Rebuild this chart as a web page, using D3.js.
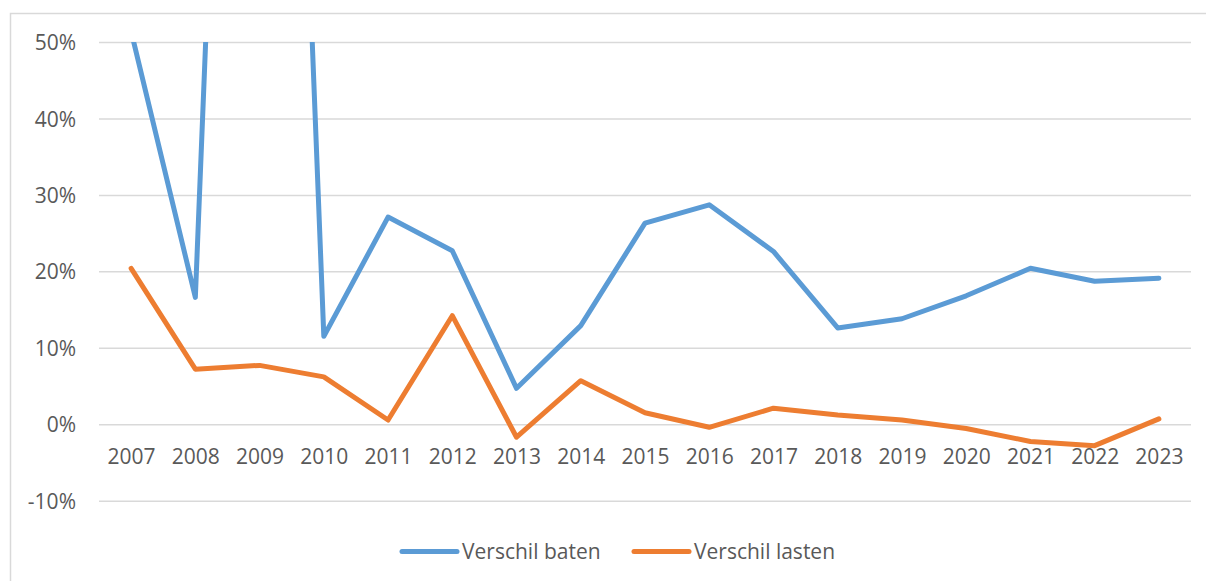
<!DOCTYPE html>
<html>
<head>
<meta charset="utf-8">
<script src="https://cdn.jsdelivr.net/npm/d3@7"></script>
<style>
    body { margin: 0; background: #fff; }
    #chart text { font-family: "Open Sans", sans-serif; fill: #595959; }
</style>
</head>
<body>
<div id="chart"></div>
<script>
const years = ["2007", "2008", "2009", "2010", "2011", "2012", "2013", "2014", "2015",
    "2016", "2017", "2018", "2019", "2020", "2021", "2022", "2023"];
const verschilBaten = [51.4, 16.6, 225, 11.5, 27.1, 22.7, 4.7, 12.9, 26.3,
    28.7, 22.6, 12.6, 13.8, 16.8, 20.4, 18.7, 19.1];
const verschilLasten = [20.4, 7.2, 7.7, 6.2, 0.55, 14.2, -1.7, 5.7, 1.5,
    -0.4, 2.1, 1.2, 0.55, -0.55, -2.25, -2.8, 0.7];
const yTicks = [-10, 0, 10, 20, 30, 40, 50];
const seriesNames = ["Verschil baten", "Verschil lasten"];
const seriesColors = ["#5b9bd5", "#ed7d31"];

let width = 1206;
let height = 581;
let plotLeft = 99;
let plotRight = 1191;
let plotTop = 42;
let plotBottom = 500.7;

let svg = d3.select("#chart").append("svg")
    .attr("width", width)
    .attr("height", height);

/* Chart frame (top and left edges visible) */
svg.append("path")
    .attr("d", `M10.5,${height + 2} V13.5 H${width + 2}`)
    .attr("fill", "none")
    .attr("stroke", "#d9d9d9")
    .attr("stroke-width", 1.5);

let x = d3.scalePoint()
    .domain(years)
    .range([plotLeft, plotRight])
    .padding(0.5);

let y = d3.scaleLinear()
    .domain([-10, 50])
    .range([plotBottom, plotTop]);

/* Gridlines + y labels */
let yAxis = d3.axisLeft(y)
    .tickValues(yTicks)
    .tickSize(-(plotRight - plotLeft))
    .tickPadding(23)
    .tickFormat(d => `${d < 0 ? "-" : ""}${Math.abs(d)}%`);

svg.append("g")
    .attr("class", "y axis")
    .attr("transform", `translate(${plotLeft}, 0)`)
    .call(yAxis)
    .call(g => g.select(".domain").remove())
    .call(g => g.selectAll("line").attr("stroke", "#d9d9d9").attr("stroke-width", 1.5))
    .call(g => g.selectAll("text").attr("font-size", 21).attr("dy", "0.36em"));

/* Year labels under the 0% line */
let xAxis = d3.axisBottom(x).tickSize(0).tickPadding(0);

svg.append("g")
    .attr("class", "x axis")
    .attr("transform", `translate(0, ${y(0)})`)
    .call(xAxis)
    .call(g => g.select(".domain").remove())
    .call(g => g.selectAll("text").attr("font-size", 21).attr("dy", "1.88em"));

/* Clip lines to the plot area */
svg.append("clipPath")
    .attr("id", "plot-clip")
    .append("rect")
    .attr("x", 0)
    .attr("y", plotTop)
    .attr("width", width)
    .attr("height", height - plotTop);

let line = d3.line()
    .x((d, i) => x(years[i]))
    .y(d => y(d));

let lines = svg.append("g")
    .attr("class", "lines")
    .attr("clip-path", "url(#plot-clip)");

lines.selectAll(".line")
    .data([verschilBaten, verschilLasten]).enter()
    .append("path")
    .attr("class", "line")
    .attr("d", d => line(d))
    .attr("fill", "none")
    .attr("stroke", (d, i) => seriesColors[i])
    .attr("stroke-width", 5)
    .attr("stroke-linejoin", "round")
    .attr("stroke-linecap", "round");

/* Legend */
let legendY = 551.5;
let legendX = [402, 634];

let legend = svg.selectAll(".legend")
    .data(seriesNames).enter()
    .append("g")
    .attr("class", "legend")
    .attr("transform", (d, i) => `translate(${legendX[i]}, ${legendY})`);

legend.append("line")
    .attr("x1", 0)
    .attr("x2", 55)
    .attr("stroke", (d, i) => seriesColors[i])
    .attr("stroke-width", 5)
    .attr("stroke-linecap", "round");

legend.append("text")
    .attr("x", 60)
    .attr("dy", "0.36em")
    .attr("font-size", 21)
    .text(d => d);
</script>
</body>
</html>
